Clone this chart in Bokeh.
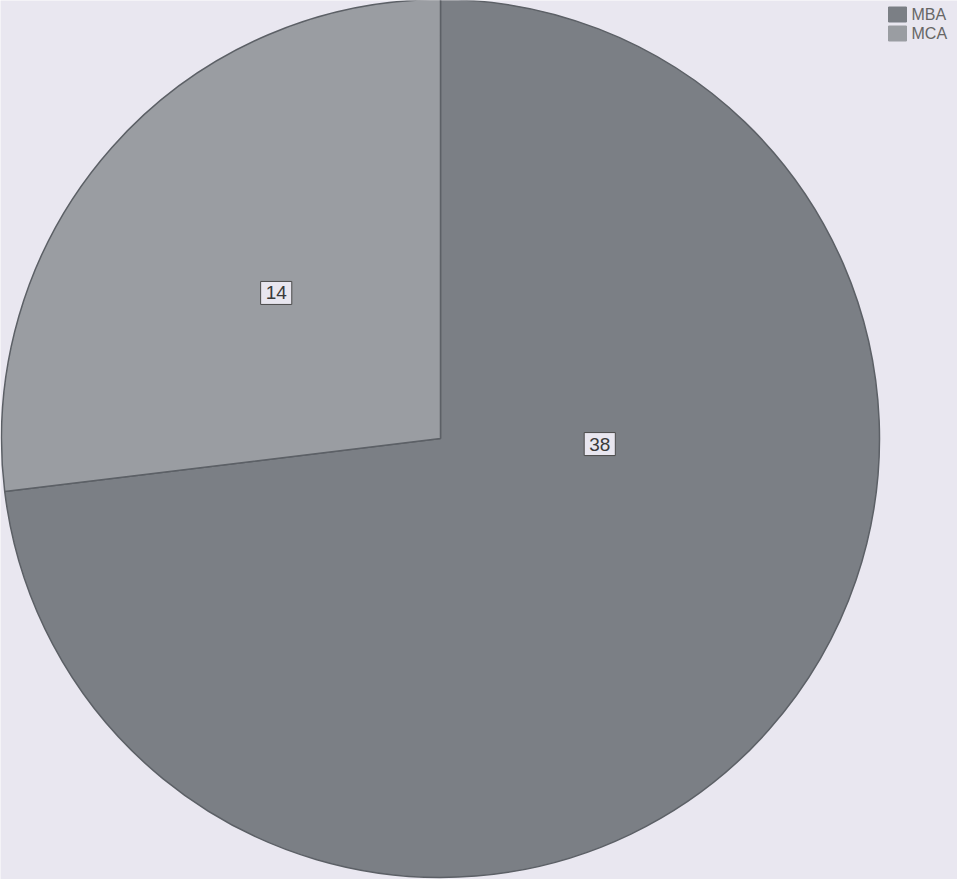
import math
from bokeh.plotting import figure
from bokeh.models import Range1d, ColumnDataSource
from bokeh.core.properties import value
from bokeh.embed import file_html
from bokeh.resources import INLINE

# data
categories = ["MBA", "MCA"]
counts = [38, 14]
colors = ["#7b7f85", "#9a9da2"]

W, H = 957, 879
p = figure(width=W, height=H, output_backend="svg", toolbar_location=None,
           x_range=Range1d(0, W), y_range=Range1d(0, H), min_border=0)
p.axis.visible = False
p.grid.visible = False
p.outline_line_color = None
p.background_fill_color = "#e9e7f0"
p.border_fill_color = "#e9e7f0"

cx, cy, r = 440, 441, 439
total = sum(counts)
starts, ends = [], []
a = math.pi / 2
for c in counts:
    starts.append(a)
    a -= 2 * math.pi * c / total
    ends.append(a)

src = ColumnDataSource(dict(cat=categories, cnt=counts, color=colors,
                            start=starts, end=ends))
p.wedge(x=cx, y=cy, radius=r, start_angle="start", end_angle="end",
        direction="clock", fill_color="color", line_color="#5c6066",
        line_width=1.5, source=src)

# label placement (polar, relative to the pie): layout only
label_rfrac = [0.363, 0.50]
label_ang_off = [0.69, 0.0]
lx, ly = [], []
for s, e, rf, off in zip(starts, ends, label_rfrac, label_ang_off):
    mid = (s + e) / 2 + off
    lx.append(cx + r * rf * math.cos(mid))
    ly.append(cy + r * rf * math.sin(mid))
p.text(x=lx, y=ly, text=[str(c) for c in counts], text_align="center",
       text_baseline="middle", text_font=value("Liberation Sans"),
       text_font_size="19px", text_color="#3a3a3a",
       background_fill_color="#e8e6ef", border_line_color="#4a4a4a",
       border_line_width=1, padding=5)

# legend
lg_x, lg_y0, lg_step = 897, 865, 19
for i, (cat, col) in enumerate(zip(categories, colors)):
    y = lg_y0 - i * lg_step
    p.rect(x=lg_x, y=y, width=18, height=15, fill_color=col,
           line_color=col)
    p.text(x=[lg_x + 14], y=[y], text=[cat], text_baseline="middle",
           text_font=value("Liberation Sans"), text_font_size="16px",
           text_color="#666666")

open("out.html", "w").write(file_html(p, INLINE))
